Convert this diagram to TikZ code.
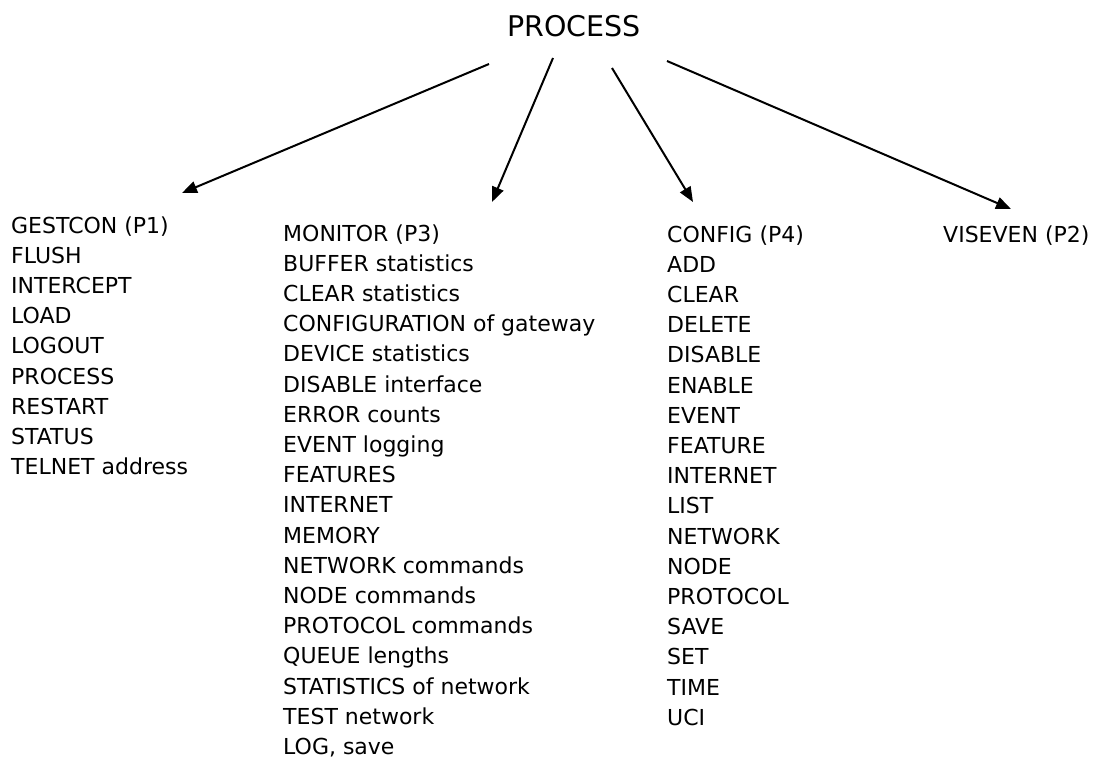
\documentclass[tikz,border=0pt]{standalone}
\usepackage{fontspec}
\setmainfont{DejaVu Sans}
\usetikzlibrary{arrows.meta}
\begin{document}
\begin{tikzpicture}[x=1pt,y=-1pt,
  item/.style={font=\fontsize{22}{26}\selectfont, inner sep=0pt, anchor=base west},
  rootlbl/.style={font=\fontsize{28.5}{33}\selectfont, inner sep=0pt, anchor=base west},
  link/.style={line width=2pt, -{Triangle[length=15pt,width=12pt]}}]
\useasboundingbox (0,0) rectangle (1102,758);
\node[rootlbl] (root) at (507,36) {PROCESS};
% column G
\foreach \t [count=\i] in {GESTCON (P1),FLUSH,INTERCEPT,LOAD,LOGOUT,PROCESS,RESTART,STATUS,TELNET address}
  \node[item] (g\i) at (11,{233+30.2*(\i-1)}) {\t};
% column M
\foreach \t [count=\i] in {MONITOR (P3),BUFFER statistics,CLEAR statistics,CONFIGURATION of gateway,DEVICE statistics,DISABLE interface,ERROR counts,EVENT logging,FEATURES,INTERNET,MEMORY,NETWORK commands,NODE commands,PROTOCOL commands,QUEUE lengths,STATISTICS of network,TEST network,{LOG, save}}
  \node[item] (m\i) at (283,{241+30.2*(\i-1)}) {\t};
% column C
\foreach \t [count=\i] in {CONFIG (P4),ADD,CLEAR,DELETE,DISABLE,ENABLE,EVENT,FEATURE,INTERNET,LIST,NETWORK,NODE,PROTOCOL,SAVE,SET,TIME,UCI}
  \node[item] (c\i) at (667,{242+30.2*(\i-1)}) {\t};
\node[item] (v1) at (943,242) {VISEVEN (P2)};
% connectors
\coordinate (s1) at (489,64);  \coordinate (e1) at (182,193);
\coordinate (s2) at (553,58);  \coordinate (e2) at (492,202);
\coordinate (s3) at (612,68);  \coordinate (e3) at (693,202);
\coordinate (s4) at (667,61);  \coordinate (e4) at (1011,209);
\draw[link] (s1) -- (e1);
\draw[link] (s2) -- (e2);
\draw[link] (s3) -- (e3);
\draw[link] (s4) -- (e4);
\end{tikzpicture}
\end{document}
